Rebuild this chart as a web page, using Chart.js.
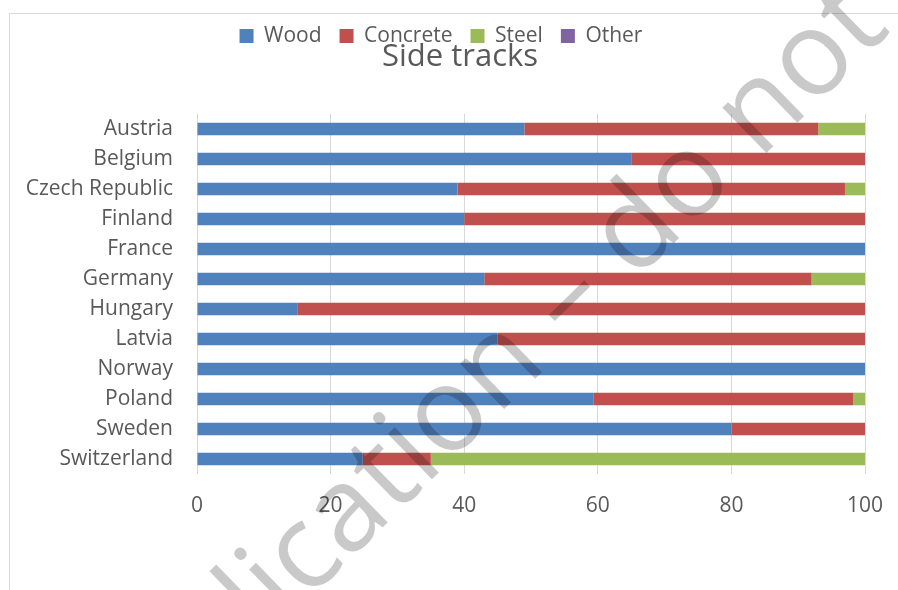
<!DOCTYPE html>
<html>
<head>
<meta charset="utf-8">
<script src="https://cdn.jsdelivr.net/npm/chart.js@4"></script>
<style>
  html, body { margin: 0; padding: 0; background: #fff; }
  #wrap { width: 898px; height: 590px; }
</style>
</head>
<body>
<div id="wrap"><canvas id="chart" width="898" height="590"></canvas></div>
<script>
// Share of sleeper type in side tracks (%)
const countries = ['Austria', 'Belgium', 'Czech Republic', 'Finland', 'France', 'Germany',
  'Hungary', 'Latvia', 'Norway', 'Poland', 'Sweden', 'Switzerland'];
const wood     = [49, 65, 39, 40, 100, 43, 15, 45, 100, 59.4, 80, 24.8];
const concrete = [44, 35, 58, 60, 0, 49, 85, 55, 0, 38.8, 20, 10.2];
const steel    = [7, 0, 3, 0, 0, 8, 0, 0, 0, 1.8, 0, 65];
const other    = [0, 0, 0, 0, 0, 0, 0, 0, 0, 0, 0, 0];
const xTicks = [0, 20, 40, 60, 80, 100];

const FONT = "'Open Sans', 'Noto Sans', sans-serif";
const TEXT = '#595959';

// chart frame, title and the diagonal watermark
const decor = {
  id: 'decor',
  beforeDraw(chart) {
    const ctx = chart.ctx;
    ctx.save();
    ctx.strokeStyle = '#d9d9d9';
    ctx.lineWidth = 1;
    ctx.strokeRect(9.5, 13.5, 1000, 1000);
    ctx.restore();
  },
  afterDraw(chart) {
    const ctx = chart.ctx;
    ctx.save();
    ctx.fillStyle = TEXT;
    ctx.font = `31px ${FONT}`;
    ctx.textAlign = 'center';
    ctx.textBaseline = 'middle';
    ctx.fillText('Side tracks', 460, 57);
    ctx.restore();

    ctx.save();
    const size = 118;
    ctx.font = `${size}px ${FONT}`;
    ctx.fillStyle = 'rgba(0,0,0,0.21)';
    ctx.textBaseline = 'alphabetic';
    const pre = 'Pre-publication ';
    const dash = '–';
    const w1 = ctx.measureText(pre).width;
    const wd = ctx.measureText(dash).width;
    ctx.translate(567, 298);
    ctx.rotate(-44.3 * Math.PI / 180);
    ctx.fillText(pre + dash + ' do not cite', -(w1 + wd / 2), size * 0.3);
    ctx.restore();
  }
};

new Chart(document.getElementById('chart'), {
  type: 'bar',
  data: {
    labels: countries,
    datasets: [
      { label: 'Wood', data: wood, backgroundColor: '#4f81bd' },
      { label: 'Concrete', data: concrete, backgroundColor: '#c0504d' },
      { label: 'Steel', data: steel, backgroundColor: '#9bbb59' },
      { label: 'Other', data: other, backgroundColor: '#8064a2' }
    ]
  },
  options: {
    indexAxis: 'y',
    responsive: false,
    animation: false,
    barPercentage: 0.42,
    categoryPercentage: 1,
    layout: { padding: { top: 7.5, left: 0, right: 16, bottom: 0 } },
    plugins: {
      title: { display: false },
      tooltip: { enabled: false },
      legend: {
        position: 'top',
        labels: {
          boxWidth: 14,
          boxHeight: 14,
          padding: 18,
          color: TEXT,
          font: { family: FONT, size: 21 }
        }
      }
    },
    scales: {
      x: {
        stacked: true,
        min: 0,
        max: 100,
        afterBuildTicks: s => { s.ticks = xTicks.map(v => ({ value: v })); },
        grid: { color: '#d9d9d9', drawTicks: false },
        border: { display: false },
        ticks: { color: TEXT, padding: 19, font: { family: FONT, size: 21 } },
        afterFit: s => { s.height = 116; s.paddingLeft = 0; s.paddingRight = 0; }
      },
      xTop: {
        type: 'linear',
        position: 'top',
        min: 0,
        max: 100,
        grid: { display: false },
        border: { display: false },
        ticks: { display: false },
        afterFit: s => { s.height = 57.5; s.paddingLeft = 0; s.paddingRight = 0; }
      },
      y: {
        stacked: true,
        grid: { display: false, drawTicks: false },
        border: { display: false },
        ticks: { color: TEXT, padding: 24, font: { family: FONT, size: 21 } },
        afterFit: s => { s.width = 197; }
      },
      yRight: {
        type: 'category',
        position: 'right',
        grid: { display: false },
        border: { display: false },
        ticks: { display: false },
        afterFit: s => { s.width = 17; }
      }
    }
  },
  plugins: [decor]
});
</script>
</body>
</html>
